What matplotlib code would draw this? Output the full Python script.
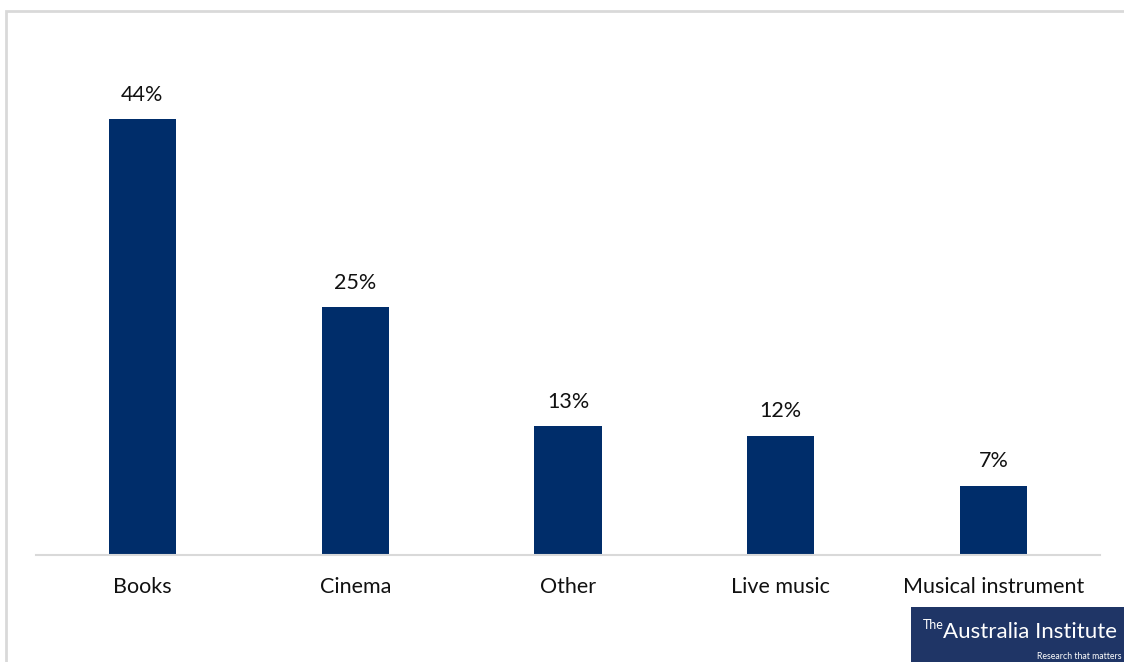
import matplotlib
matplotlib.use("Agg")
import matplotlib.pyplot as plt
from matplotlib.patches import Rectangle

categories = ["Books", "Cinema", "Other", "Live music", "Musical instrument"]
shares = [44, 25, 13, 12, 7]

W, H = 1124, 662
fig = plt.figure(figsize=(W / 100, H / 100), dpi=100)
fig.patch.set_facecolor("white")

# outer chart frame (light gray), running off the right and bottom edges
fig.add_artist(Rectangle((6.5 / W, -0.1), 1.2, 1 - 10.5 / H + 0.1,
                         transform=fig.transFigure, fill=False,
                         edgecolor="#d9d9d9", linewidth=2))

ax = fig.add_axes([36 / W, 1 - 555 / H, (1100 - 36) / W, (555 - 60) / H])
x = range(len(categories))
bars = ax.bar(x, shares, width=0.315, color="#002D6A")
ax.set_xlim(-0.5, len(categories) - 0.5)
ax.set_ylim(0, 50)

for b, v in zip(bars, shares):
    ax.annotate(f"{v}%", (b.get_x() + b.get_width() / 2, v),
                xytext=(0, 13.5), textcoords="offset points",
                ha="center", va="baseline", fontsize=15.5, family="Lato",
                color="#111111")

ax.set_xticks(list(x))
ax.set_xticklabels(categories, fontsize=15.5, family="Lato", color="#111111")
ax.tick_params(axis="x", length=0, pad=16)
ax.set_yticks([])
for side in ["top", "right", "left"]:
    ax.spines[side].set_visible(False)
ax.spines["bottom"].set_color("#d9d9d9")
ax.spines["bottom"].set_linewidth(1.5)

# institute badge in the lower right corner
fig.add_artist(Rectangle((911 / W, 0), (W - 911) / W, (662 - 607) / H,
                         transform=fig.transFigure, facecolor="#1f3566",
                         edgecolor="none"))
fig.text(923 / W, 1 - 629 / H, "The", color="white", fontsize=9,
         family="Lato", ha="left", va="baseline")
fig.text(943 / W, 1 - 638 / H, "Australia Institute", color="white",
         fontsize=16, family="Lato", ha="left", va="baseline")
fig.text(1037 / W, 1 - 659 / H, "Research that matters", color="white",
         fontsize=6.3, family="Lato", ha="left", va="baseline")

fig.savefig("out.png", dpi=100)
